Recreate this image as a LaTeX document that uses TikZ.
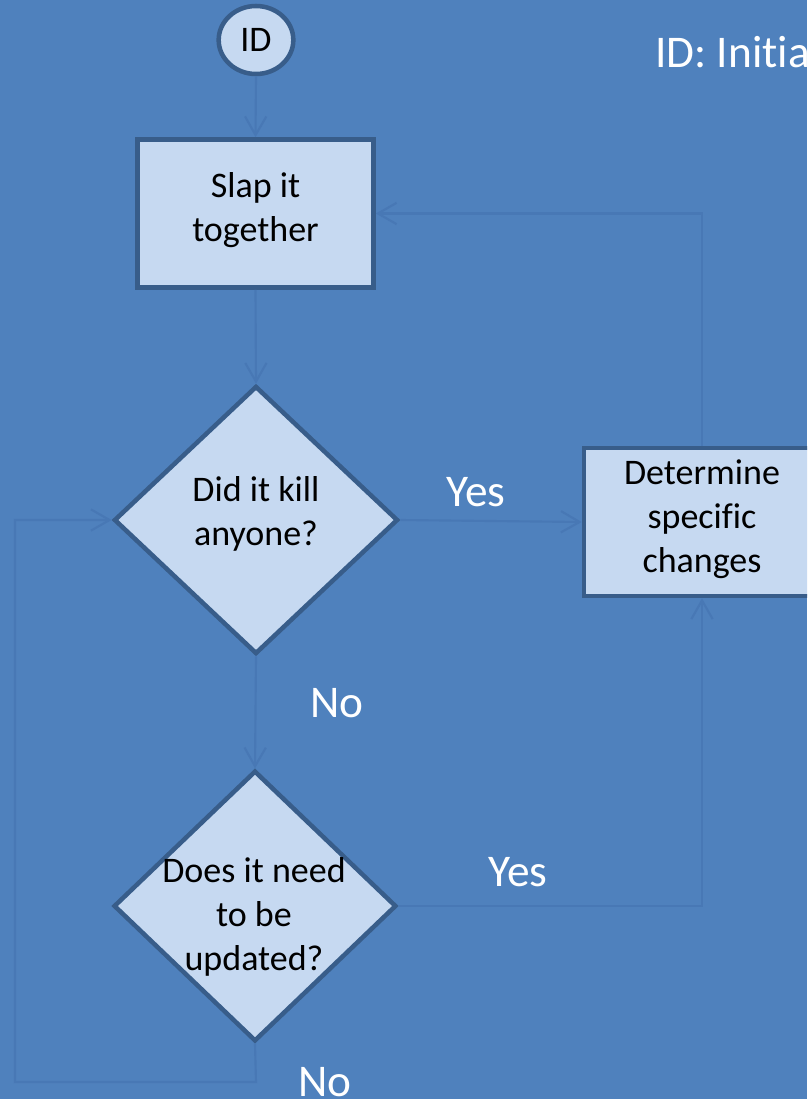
\documentclass[tikz,border=0pt]{standalone}
\usepackage{fontspec}
\setmainfont[Ligatures=NoCommon]{Carlito}
\usetikzlibrary{shapes.geometric,arrows.meta,calc}
\definecolor{bgblue}{HTML}{4F81BD}
\definecolor{boxfill}{HTML}{C6D9F1}
\definecolor{boxline}{HTML}{385D8A}
\definecolor{connline}{HTML}{4878B5}
\tikzset{
  shapebox/.style={draw=boxline, fill=boxfill, line width=3.4pt, inner sep=0pt},
  rectbox/.style={shapebox, rectangle, minimum width=177pt, minimum height=111pt},
  diamondbox/.style={shapebox, diamond, minimum width=213pt, minimum height=201pt},
  nodetext/.style={align=center, text=black, font=\fontsize{27}{33}\selectfont, inner sep=0pt},
  labeltext/.style={text=white, font=\fontsize{34}{40}\selectfont, inner sep=0pt},
  conn/.style={draw=connline, line width=1.6pt, -{Straight Barb[length=14pt,width=16pt,line width=1.6pt]}},
  connplain/.style={draw=connline, line width=1.6pt}
}
\begin{document}
\begin{tikzpicture}[x=0.75pt,y=-0.75pt]
  \useasboundingbox (0,0) rectangle (807,1099);
  \clip (0,0) rectangle (807,1099);
  \fill[bgblue] (0,0) rectangle (807,1099);

  % nodes
  \node[shapebox, ellipse, minimum width=56pt, minimum height=51pt] (id) at (256,40) {};
  \node[nodetext] (idtext) at (256,40) {ID};
  \node[rectbox] (slap) at (255.5,213.5) {};
  \node[nodetext] (slaptext) at (255.5,210) {Slap it\\together};
  \node[diamondbox] (d1) at (256,520) {};
  \node[nodetext] (d1text) at (256,514) {Did it kill\\anyone?};
  \node[rectbox] (det) at (702,522) {};
  \node[nodetext] (dettext) at (702,519) {Determine\\specific\\changes};
  \node[diamondbox, minimum width=212pt, minimum height=203pt] (d2) at (255,906) {};
  \node[nodetext] (d2text) at (254,917) {Does it need\\to be\\updated?};

  % labels
  \node[labeltext] (yes1) at (476,492) {Yes};
  \node[labeltext] (no1) at (337,703) {No};
  \node[labeltext] (yes2) at (518,872) {Yes};
  \node[labeltext] (no2) at (325,1082) {No};
  \node[labeltext, anchor=west] (legend) at (655,52) {ID: Initia};

  % loop coordinates
  \coordinate (loopa) at (256,1082);
  \coordinate (loopb) at (15,1082);
  \coordinate (loopc) at (15,520);

  % connectors
  \draw[conn] (id.south) -- (slap.north);
  \draw[conn] (slap.south) -- (d1.north);
  \draw[conn] (d1.east) -- (det.west);
  \draw[conn] (det.north) |- (slap.east);
  \draw[conn] (d1.south) -- (d2.north);
  \draw[conn] (d2.east) -| (det.south);
  \draw[conn] (d2.south) -- (loopa) -- (loopb) -- (loopc) -- (d1.west);
\end{tikzpicture}
\end{document}
